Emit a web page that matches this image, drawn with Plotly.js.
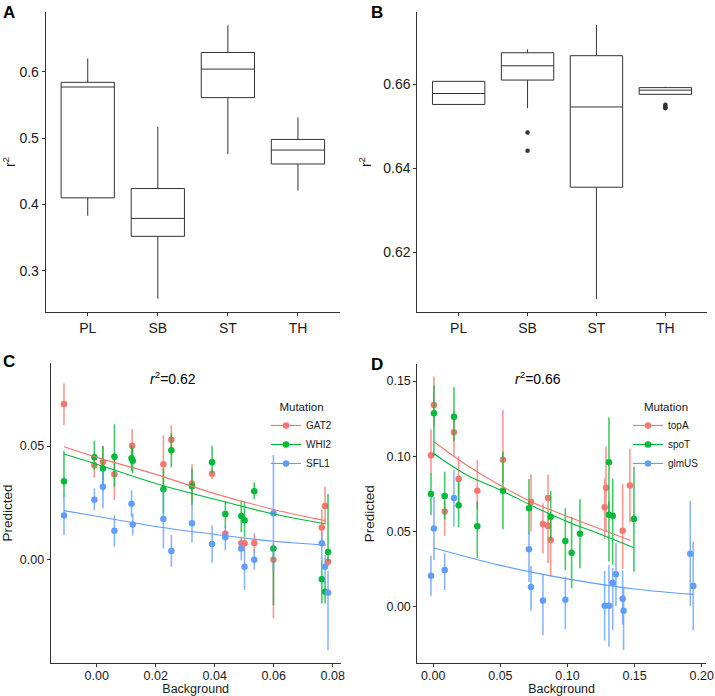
<!DOCTYPE html>
<html>
<head>
<meta charset="utf-8">
<script src="https://cdn.plot.ly/plotly-3.0.1.min.js"></script>
<style>html,body{margin:0;padding:0;background:#fff}#chart{width:715px;height:696px}</style>
</head>
<body>
<div id="chart"></div>
<script>
// ---------- Panel A / B : box summaries ----------
const boxCats = ['PL', 'SB', 'ST', 'TH'];
const aQ1 = [0.410, 0.352, 0.561, 0.461];
const aMedian = [0.577, 0.379, 0.604, 0.482];
const aQ3 = [0.584, 0.424, 0.629, 0.498];
const aLower = [0.383, 0.258, 0.476, 0.421];
const aUpper = [0.620, 0.517, 0.670, 0.531];

const bQ1 = [0.6552, 0.6610, 0.6355, 0.6576];
const bMedian = [0.6578, 0.6644, 0.6546, 0.6586];
const bQ3 = [0.6607, 0.6675, 0.6668, 0.6592];
const bLower = [0.6552, 0.6543, 0.6089, 0.6576];
const bUpper = [0.6607, 0.6683, 0.6741, 0.6594];
const bOutCat = ['SB', 'SB', 'TH', 'TH', 'TH', 'TH'];
const bOutVal = [0.6485, 0.6442, 0.6551, 0.6548, 0.6545, 0.6543];

// ---------- Panel C ----------
const cGatX = [-0.0111, -0.0008, 0.0021, 0.006, 0.012, 0.0226, 0.0253, 0.0323, 0.0391, 0.0436, 0.049, 0.0501, 0.0534, 0.0599, 0.0763, 0.0774, 0.0784];
const cGatY = [0.0685, 0.0415, 0.0429, 0.0376, 0.0501, 0.0420, 0.0528, 0.0335, 0.0378, 0.0113, 0.0071, 0.0071, 0.0072, -0.0002, 0.0141, 0.0235, -0.0011];
const cGatLo = [0.0593, 0.0360, 0.0350, 0.0262, 0.0430, 0.0300, 0.0460, 0.0250, 0.0355, 0.0095, 0.0040, 0.0040, 0.0030, -0.0260, 0.0060, 0.0160, -0.0030];
const cGatHi = [0.0776, 0.0470, 0.0500, 0.0460, 0.0575, 0.0548, 0.0593, 0.0420, 0.0400, 0.0130, 0.0100, 0.0100, 0.0115, 0.0040, 0.0220, 0.0320, 0.0010];

const cWhiX = [-0.0111, -0.0008, 0.0021, 0.006, 0.0118, 0.0122, 0.0226, 0.0253, 0.0323, 0.0391, 0.0436, 0.049, 0.0501, 0.0534, 0.0599, 0.0763, 0.0774, 0.0784];
const cWhiY = [0.0345, 0.0451, 0.0401, 0.0453, 0.0446, 0.0435, 0.0309, 0.0481, 0.0323, 0.0428, 0.0200, 0.0191, 0.0172, 0.0301, 0.0048, -0.0088, -0.0143, 0.0032];
const cWhiLo = [0.0275, 0.0395, 0.0300, 0.0320, 0.0390, 0.0380, 0.0200, 0.0406, 0.0240, 0.0380, 0.0137, 0.0120, 0.0100, 0.0265, -0.0202, -0.0195, -0.0195, -0.0010];
const cWhiHi = [0.0478, 0.0523, 0.0500, 0.0596, 0.0505, 0.0490, 0.0400, 0.0556, 0.0400, 0.0500, 0.0257, 0.0260, 0.0255, 0.0340, 0.0070, 0.0000, -0.0095, 0.0288];

const cSflX = [-0.0111, -0.0008, 0.0021, 0.006, 0.0118, 0.0122, 0.0226, 0.0253, 0.0323, 0.0391, 0.0436, 0.049, 0.0501, 0.0534, 0.0599, 0.0763, 0.0774, 0.0784];
const cSflY = [0.0194, 0.0263, 0.0320, 0.0126, 0.0245, 0.0154, 0.0178, 0.0037, 0.0159, 0.0068, 0.0097, 0.0048, -0.0033, -0.0002, 0.0203, 0.0071, -0.0033, -0.0147];
const cSflLo = [0.0107, 0.0217, 0.0226, 0.0056, 0.0187, 0.0105, 0.0048, -0.0033, 0.0075, -0.0015, 0.0040, -0.0005, -0.0135, -0.0045, -0.0055, 0.0000, -0.0105, -0.0400];
const cSflHi = [0.0284, 0.0313, 0.0394, 0.0195, 0.0305, 0.0202, 0.0310, 0.0107, 0.0250, 0.0148, 0.0148, 0.0090, 0.0041, 0.0045, 0.0460, 0.0120, 0.0019, -0.0050];

const cFitX = [-0.0111, 0.0, 0.02, 0.04, 0.06, 0.0777];
const cFitGat = [0.0497, 0.0450, 0.0375, 0.0290, 0.0220, 0.0170];
const cFitWhi = [0.0465, 0.0420, 0.0335, 0.0265, 0.0200, 0.0156];
const cFitSfl = [0.0215, 0.0190, 0.0145, 0.0110, 0.0080, 0.0063];

// ---------- Panel D ----------
const dTopX = [-0.0017, 0.0005, 0.0085, 0.0154, 0.0189, 0.0328, 0.0519, 0.0728, 0.0817, 0.0855, 0.0855, 0.0875, 0.1277, 0.1287, 0.1411, 0.1465];
const dTopY = [0.1007, 0.1341, 0.0632, 0.1160, 0.0849, 0.0771, 0.0977, 0.0696, 0.0550, 0.0723, 0.0537, 0.0443, 0.0661, 0.0791, 0.0505, 0.0805];
const dTopLo = [0.0880, 0.1200, 0.0470, 0.1000, 0.0700, 0.0650, 0.0820, 0.0500, 0.0355, 0.0550, 0.0290, 0.0200, 0.0450, 0.0500, 0.0250, 0.0560];
const dTopHi = [0.1180, 0.1530, 0.0695, 0.1300, 0.1000, 0.0976, 0.1308, 0.0880, 0.0687, 0.0878, 0.0600, 0.0600, 0.0850, 0.1064, 0.0816, 0.1049];

const dSpoX = [-0.0017, 0.0005, 0.0085, 0.0154, 0.0189, 0.0328, 0.0519, 0.0713, 0.0875, 0.0984, 0.1031, 0.1093, 0.1309, 0.1309, 0.1337, 0.1495];
const dSpoY = [0.0749, 0.1286, 0.0736, 0.1263, 0.0674, 0.0535, 0.0771, 0.0654, 0.0598, 0.0437, 0.0359, 0.0485, 0.0960, 0.0612, 0.0605, 0.0583];
const dSpoLo = [0.0610, 0.1000, 0.0580, 0.1100, 0.0530, 0.0322, 0.0515, 0.0480, 0.0440, 0.0244, 0.0122, 0.0256, 0.0600, 0.0300, 0.0280, 0.0233];
const dSpoHi = [0.0887, 0.1470, 0.0897, 0.1459, 0.0830, 0.0700, 0.1030, 0.0848, 0.0770, 0.0654, 0.0598, 0.0715, 0.1257, 0.0700, 0.0850, 0.0931];

const dGlmX = [-0.0017, 0.0005, 0.0085, 0.0154, 0.0713, 0.0728, 0.0817, 0.0984, 0.1277, 0.1309, 0.1337, 0.1361, 0.1411, 0.1418, 0.1915, 0.1937];
const dGlmY = [0.0206, 0.0519, 0.0244, 0.0723, 0.0382, 0.0131, 0.0042, 0.0047, 0.0007, 0.0007, 0.0160, 0.0215, 0.0053, -0.0027, 0.0352, 0.0138];
const dGlmLo = [0.0073, 0.0310, 0.0111, 0.0532, 0.0166, -0.0027, -0.0188, -0.0150, -0.0226, -0.0266, -0.0155, 0.0005, -0.0120, -0.0288, 0.0005, -0.0155];
const dGlmHi = [0.0339, 0.0731, 0.0355, 0.0909, 0.0500, 0.0270, 0.0211, 0.0200, 0.0237, 0.0277, 0.0257, 0.0421, 0.0240, 0.0122, 0.0703, 0.0432];

const dFitTopX = [0.0, 0.025, 0.05, 0.075, 0.10, 0.125, 0.147];
const dFitTop = [0.1100, 0.0940, 0.0805, 0.0690, 0.0600, 0.0515, 0.0440];
const dFitSpoX = [0.0, 0.025, 0.05, 0.075, 0.10, 0.125, 0.1495];
const dFitSpo = [0.1020, 0.0875, 0.0775, 0.0665, 0.0565, 0.0480, 0.0392];
const dFitGlmX = [0.0, 0.05, 0.10, 0.15, 0.1937];
const dFitGlm = [0.0392, 0.0275, 0.0185, 0.0118, 0.0082];

const RED = '#F8766D', GREEN = '#00BA38', BLUE = '#619CFF';
const ERR = {RED: 'rgba(248,118,109,0.75)', GREEN: 'rgba(0,186,56,0.75)', BLUE: 'rgba(97,156,255,0.75)'};
const FONT = 'Liberation Sans, Arial, Helvetica, sans-serif';

function diff(a, b) { return a.map((v, i) => v - b[i]); }

function pts(x, y, lo, hi, color, errColor, xa, ya) {
  return {
    type: 'scatter', mode: 'markers', x: x, y: y, xaxis: xa, yaxis: ya, showlegend: false,
    marker: {color: color, size: 6.5},
    error_y: {type: 'data', symmetric: false, array: diff(hi, y), arrayminus: diff(y, lo),
              color: errColor, thickness: 1.6, width: 0},
    hoverinfo: 'skip'
  };
}
function fit(x, y, color, xa, ya) {
  return {type: 'scatter', mode: 'lines', x: x, y: y, xaxis: xa, yaxis: ya, showlegend: false,
          line: {color: color, width: 1.1, shape: 'spline'}, hoverinfo: 'skip'};
}
function proxy(name, color, xa, ya, leg) {
  return {type: 'scatter', mode: 'lines+markers', x: [null], y: [null], xaxis: xa, yaxis: ya,
          name: name, legend: leg, showlegend: true,
          marker: {color: color, size: 6.5}, line: {color: color, width: 1.1}};
}
function box(q1, med, q3, lo, hi, xa, ya) {
  return {type: 'box', x: boxCats, q1: q1, median: med, q3: q3, lowerfence: lo, upperfence: hi,
          xaxis: xa, yaxis: ya, showlegend: false, boxpoints: false, width: 0.76,
          whiskerwidth: 0, fillcolor: '#ffffff', line: {color: '#333333', width: 1}, hoverinfo: 'skip'};
}

const traces = [
  box(aQ1, aMedian, aQ3, aLower, aUpper, 'x', 'y'),
  box(bQ1, bMedian, bQ3, bLower, bUpper, 'x2', 'y2'),
  {type: 'scatter', mode: 'markers', x: bOutCat, y: bOutVal, xaxis: 'x2', yaxis: 'y2', showlegend: false,
   marker: {color: '#333333', size: 4.5}, hoverinfo: 'skip'},

  pts(cGatX, cGatY, cGatLo, cGatHi, RED, ERR.RED, 'x3', 'y3'),
  pts(cWhiX, cWhiY, cWhiLo, cWhiHi, GREEN, ERR.GREEN, 'x3', 'y3'),
  pts(cSflX, cSflY, cSflLo, cSflHi, BLUE, ERR.BLUE, 'x3', 'y3'),
  fit(cFitX, cFitGat, RED, 'x3', 'y3'),
  fit(cFitX, cFitWhi, GREEN, 'x3', 'y3'),
  fit(cFitX, cFitSfl, BLUE, 'x3', 'y3'),
  proxy('GAT2', RED, 'x3', 'y3', 'legend'),
  proxy('WHI2', GREEN, 'x3', 'y3', 'legend'),
  proxy('SFL1', BLUE, 'x3', 'y3', 'legend'),

  pts(dTopX, dTopY, dTopLo, dTopHi, RED, ERR.RED, 'x4', 'y4'),
  pts(dSpoX, dSpoY, dSpoLo, dSpoHi, GREEN, ERR.GREEN, 'x4', 'y4'),
  pts(dGlmX, dGlmY, dGlmLo, dGlmHi, BLUE, ERR.BLUE, 'x4', 'y4'),
  fit(dFitTopX, dFitTop, RED, 'x4', 'y4'),
  fit(dFitSpoX, dFitSpo, GREEN, 'x4', 'y4'),
  fit(dFitGlmX, dFitGlm, BLUE, 'x4', 'y4'),
  proxy('topA', RED, 'x4', 'y4', 'legend2'),
  proxy('spoT', GREEN, 'x4', 'y4', 'legend2'),
  proxy('glmUS', BLUE, 'x4', 'y4', 'legend2')
];

function ax(extra) {
  return Object.assign({
    showline: true, linecolor: '#333333', linewidth: 1, ticks: 'outside', ticklen: 3,
    tickcolor: '#333333', tickwidth: 1, showgrid: false, zeroline: false, fixedrange: true,
    tickfont: {size: 12.5, color: '#1a1a1a', family: FONT}
  }, extra);
}
const W = 715, H = 696;
const px = v => v / W, py = v => 1 - v / H;

const legendBase = {
  xanchor: 'left', yanchor: 'top', bgcolor: 'rgba(0,0,0,0)', itemwidth: 30,
  font: {size: 10, color: '#1a1a1a', family: FONT},
  title: {text: 'Mutation', side: 'top center', font: {size: 11.5, color: '#1a1a1a', family: FONT}}
};

const layout = {
  width: W, height: H, margin: {l: 0, r: 0, t: 0, b: 0},
  paper_bgcolor: '#ffffff', plot_bgcolor: '#ffffff',
  font: {family: FONT, color: '#1a1a1a'},
  showlegend: true,
  xaxis: ax({domain: [px(45.7), px(340)], anchor: 'y', type: 'category', range: [-0.6, 3.6],
             tickfont: {size: 14, color: '#1a1a1a', family: FONT}}),
  yaxis: ax({domain: [py(312), py(12)], anchor: 'x', range: [0.238, 0.690], dtick: 0.1, tickformat: '.1f',
             tickfont: {size: 14, color: '#1a1a1a', family: FONT},
             title: {text: 'r<sup>2</sup>', font: {size: 14}, standoff: 8}}),
  xaxis2: ax({domain: [px(417.3), px(706.7)], anchor: 'y2', type: 'category', range: [-0.6, 3.6],
              tickfont: {size: 14, color: '#1a1a1a', family: FONT}}),
  yaxis2: ax({domain: [py(312), py(12)], anchor: 'x2', range: [0.6058, 0.6772], dtick: 0.02, tickformat: '.2f',
              tickfont: {size: 14, color: '#1a1a1a', family: FONT},
              title: {text: 'r<sup>2</sup>', font: {size: 14}, standoff: 8}}),
  xaxis3: ax({domain: [px(50.7), px(340.7)], anchor: 'y3', range: [-0.0156, 0.0827], dtick: 0.02, tickformat: '.2f',
              ticklabelstandoff: -2,
              title: {text: 'Background', font: {size: 12.5}, standoff: 0}}),
  yaxis3: ax({domain: [py(662.7), py(363.3)], anchor: 'x3', range: [-0.0456, 0.0865], dtick: 0.05, tickformat: '.2f',
              title: {text: 'Predicted', font: {size: 13.5}, standoff: 8}}),
  xaxis4: ax({domain: [px(417.3), px(706)], anchor: 'y4', range: [-0.0119, 0.2032], dtick: 0.05, tickformat: '.2f',
              ticklabelstandoff: -2,
              title: {text: 'Background', font: {size: 12.5}, standoff: 0}}),
  yaxis4: ax({domain: [py(663.3), py(364)], anchor: 'x4', range: [-0.0376, 0.1613], dtick: 0.05, tickformat: '.2f',
              title: {text: 'Predicted', font: {size: 13.5}, standoff: 8}}),
  legend: Object.assign({x: px(266), y: py(396)}, legendBase),
  legend2: Object.assign({x: px(628), y: py(396)}, legendBase),
  annotations: [
    {text: '<b>A</b>', xref: 'paper', yref: 'paper', x: px(1), y: py(1), xanchor: 'left', yanchor: 'top', showarrow: false, font: {size: 17, color: '#000'}},
    {text: '<b>B</b>', xref: 'paper', yref: 'paper', x: px(369), y: py(1), xanchor: 'left', yanchor: 'top', showarrow: false, font: {size: 17, color: '#000'}},
    {text: '<b>C</b>', xref: 'paper', yref: 'paper', x: px(1), y: py(350), xanchor: 'left', yanchor: 'top', showarrow: false, font: {size: 17, color: '#000'}},
    {text: '<b>D</b>', xref: 'paper', yref: 'paper', x: px(369), y: py(353), xanchor: 'left', yanchor: 'top', showarrow: false, font: {size: 17, color: '#000'}},
    {text: '<i>r</i><sup>2</sup>=0.62', xref: 'paper', yref: 'paper', x: px(173), y: py(378), xanchor: 'center', yanchor: 'middle', showarrow: false, font: {size: 14, color: '#000'}},
    {text: '<i>r</i><sup>2</sup>=0.66', xref: 'paper', yref: 'paper', x: px(538), y: py(378), xanchor: 'center', yanchor: 'middle', showarrow: false, font: {size: 14, color: '#000'}}
  ]
};

Plotly.newPlot('chart', traces, layout, {displayModeBar: false, staticPlot: true});
</script>
</body>
</html>
